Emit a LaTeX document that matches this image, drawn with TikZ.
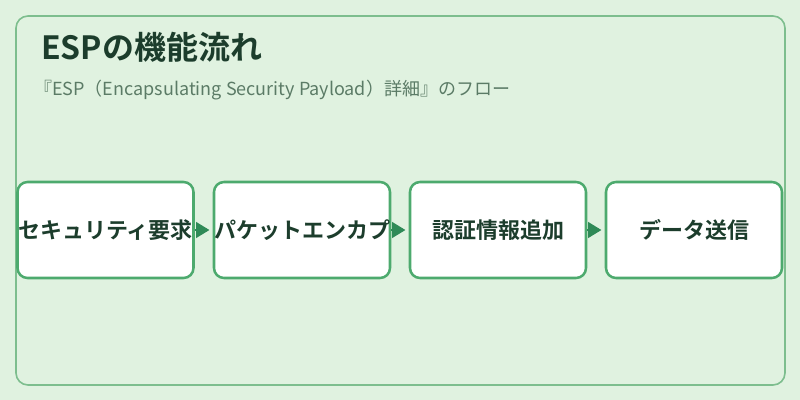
\documentclass[tikz,border=0pt]{standalone}
\usepackage{fontspec}
\setmainfont{Noto Sans CJK JP}[BoldFont={Noto Sans CJK JP Bold}]
\usetikzlibrary{arrows.meta}
\definecolor{bgmint}{HTML}{E0F2E0}
\definecolor{framegreen}{HTML}{7DBE8E}
\definecolor{boxline}{HTML}{4DAA6E}
\definecolor{arrowgreen}{HTML}{2F8A57}
\definecolor{inkdark}{HTML}{1C3D2C}
\definecolor{subgray}{HTML}{5B7B66}

\begin{document}
\begin{tikzpicture}[x=0.75pt,y=-0.75pt]
    \tikzstyle{stepbox}=[rectangle,rounded corners=7.5pt,draw=boxline,line width=1.9pt,fill=white,minimum width=132pt,minimum height=72pt,inner sep=0pt,text=inkdark,font=\bfseries\fontsize{16.5}{18}\selectfont]
    \tikzstyle{flow}=[draw=arrowgreen,fill=arrowgreen,line width=0.8pt,-{Triangle[length=10pt,width=12pt]},shorten >=2.5pt]
    \fill[bgmint] (0,0) rectangle (800,400);
    \draw[framegreen,line width=1.2pt,rounded corners=9pt] (16,16) rectangle (785,385);

    \node[anchor=west,inner sep=0pt,text=inkdark,font=\bfseries\fontsize{24}{27}\selectfont] (title) at (41,47) {ESPの機能流れ};
    \node[anchor=west,inner sep=0pt,text=subgray,font=\fontsize{13.5}{16}\selectfont] (subtitle) at (34,90) {『ESP（Encapsulating Security Payload）詳細』のフロー};

    \foreach \num/\x/\txt in {1/105.5/セキュリティ要求, 2/302/パケットエンカプ, 3/498/認証情報追加, 4/694/データ送信}
            \node[stepbox] (S-\num) at (\x,230) {\txt};

        \foreach \from/\to in {1/2,2/3,3/4}
            \draw[flow] (S-\from) -- (S-\to);
\end{tikzpicture}
\end{document}
